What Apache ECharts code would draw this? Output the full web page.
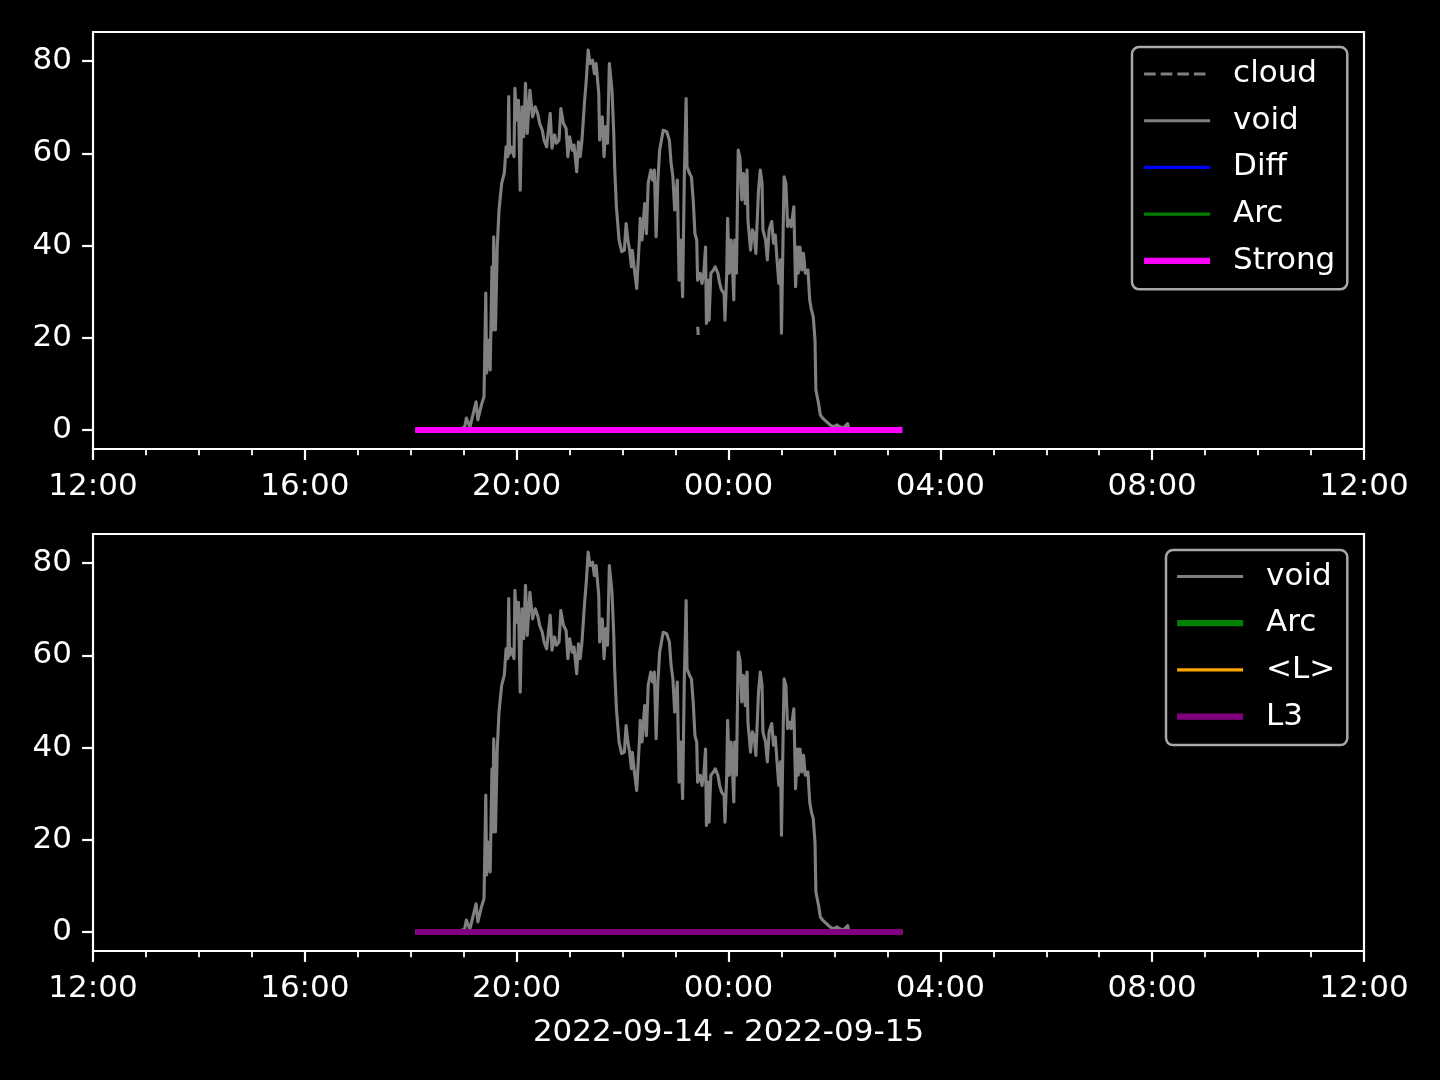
<!DOCTYPE html>
<html>
<head>
<meta charset="utf-8">
<script src="https://cdn.jsdelivr.net/npm/echarts@6/dist/echarts.min.js"></script>
<style>
html,body{margin:0;padding:0;background:#000;}
#chart{width:1440px;height:1080px;}
</style>
</head>
<body>
<div id="chart"></div>
<script>
// ---- data ----
const voidTimes = ["18:56","19:01","19:03","19:07","19:14","19:16","19:20","19:23","19:25","19:26","19:28","19:30","19:32","19:33","19:34","19:36","19:38","19:40","19:43","19:46","19:48","19:50","19:51","19:52","19:54","19:57","19:58","20:00","20:02","20:04","20:06","20:08","20:10","20:12","20:15","20:18","20:21","20:24","20:26","20:29","20:31","20:34","20:38","20:40","20:43","20:45","20:48","20:50","20:53","20:56","20:58","21:00","21:03","21:05","21:08","21:10","21:12","21:14","21:17","21:19","21:21","21:23","21:26","21:28","21:30","21:33","21:34","21:37","21:39","21:41","21:43","21:45","21:48","21:50","21:51","21:53","21:56","21:59","22:02","22:04","22:06","22:08","22:10","22:11","22:13","22:16","22:19","22:20","22:22","22:25","22:27","22:29","22:32","22:34","22:36","22:38","22:40","22:42","22:46","22:50","22:53","22:55","22:57","22:59","23:02","23:04","23:06","23:08","23:10","23:12","23:13","23:16","23:18","23:20","23:22","23:24","23:25","23:26","23:28","23:30","23:32","23:34","23:35","23:37","23:38","23:40","23:43","23:45","23:48","23:50","23:52","23:55","23:56","23:58","23:59","00:01","00:03","00:04","00:06","00:07","00:09","00:11","00:13","00:15","00:17","00:19","00:21","00:22","00:25","00:27","00:29","00:31","00:34","00:36","00:38","00:39","00:42","00:44","00:46","00:49","00:51","00:53","00:55","00:57","00:59","01:00","01:02","01:03","01:05","01:07","01:09","01:11","01:13","01:14","01:16","01:18","01:19","01:21","01:23","01:25","01:27","01:30","01:32","01:34","01:36","01:38","01:39","01:42","01:44","01:47","01:51","01:55","01:59","02:03","02:06","02:10","02:15","02:16"];
const voidValues = [0.3,0.6,2.6,0.6,6.1,2.2,5.4,7.2,29.7,12.4,19.5,13.0,35.4,21.7,41.9,21.7,39.7,47.7,53.5,55.7,61.4,59.3,72.3,60.0,61.4,59.3,74.1,67.2,71.5,52.0,70.1,63.6,75.2,64.3,73.7,67.9,70.1,68.5,66.5,65.0,62.9,61.4,68.7,61.1,64.0,62.2,62.9,69.7,66.5,65.4,59.3,63.6,60.7,61.8,56.0,62.5,59.3,62.9,71.5,76.2,82.4,79.5,80.2,77.3,79.5,73.0,62.9,67.9,59.3,65.8,62.2,79.5,73.7,64.3,57.1,48.4,41.2,38.7,39.0,44.8,41.2,39.0,35.4,39.0,35.4,30.7,41.2,45.9,41.2,49.1,42.6,53.5,56.4,54.2,56.4,41.9,54.2,60.7,65.0,64.7,62.9,57.8,54.9,47.7,54.2,32.5,41.2,28.9,55.6,71.9,57.1,55.6,54.9,49.9,42.6,41.2,32.5,33.0,34.0,31.8,34.0,39.7,23.1,32.5,23.8,34.0,34.7,35.4,34.0,31.8,30.4,29.6,23.8,34.0,45.9,34.0,41.2,37.6,28.2,41.2,34.0,60.7,59.0,49.9,55.6,49.1,56.4,45.5,39.0,43.4,42.6,38.3,52.0,56.4,53.5,43.4,41.2,36.9,43.4,45.2,40.5,42.3,36.9,31.8,36.9,21.0,44.1,54.9,53.5,44.1,45.5,44.1,44.4,48.4,31.1,39.7,34.0,39.7,34.7,38.3,34.0,34.7,28.2,26.0,24.6,19.5,8.7,5.8,3.3,2.5,1.8,1.1,0.7,1.1,0.7,0.4,1.4,0.4];
const cloudTimes = ["23:25:10","23:25:40"];
const cloudValues = [22.4,20.6];
const zeroTimes = ["18:05","03:17"];
const diffValues = [0,0];
const arcValues = [0,0];
const strongValues = [0,0];
const lValues = [0,0];
const l3Values = [0,0];
const yTicks = [0,20,40,60,80];
const xLabelHours = [0,4,8,12,16,20,24];   // hours after 2022-09-14 12:00
const xTitle = "2022-09-14 - 2022-09-15";

// ---- helpers ----
function toTs(s){
  const p = s.split(':').map(Number);
  const h = p[0], m = p[1], sec = p[2] || 0;
  const day = h < 12 ? 15 : 14;
  return new Date(2022, 8, day, h, m, sec).getTime();
}
function pairs(times, vals){ return times.map((t,i)=>[toTs(t), vals[i]]); }
const t0 = new Date(2022,8,14,12,0,0).getTime();
const HOUR = 3600*1000;
const xMin = t0, xMax = t0 + 24*HOUR;
const majorVals = xLabelHours.map(h=>t0+h*HOUR);
const minorVals = [];
for (let h=0; h<=24; h++) if (h%4) minorVals.push(t0+h*HOUR);
function pad(n){return (n<10?'0':'')+n;}
function fmt(v){const d=new Date(v);return pad(d.getHours())+':'+pad(d.getMinutes());}

const FONT = 'DejaVu Sans';
const FS = 31;
const yMin = -4.12, yMax = 86.32;
const LW = 3.1, LW2 = 6.2;

const grids = [
  {left:93, right:76, top:32, height:417, show:true, borderColor:'#ffffff', borderWidth:2.2, backgroundColor:'transparent'},
  {left:93, right:76, top:534, height:417, show:true, borderColor:'#ffffff', borderWidth:2.2, backgroundColor:'transparent'}
];

function mainX(g, withName){
  const ax = {
    type:'value', gridIndex:g, min:xMin, max:xMax, position:'bottom',
    axisLine:{show:false, onZero:false},
    splitLine:{show:false},
    axisTick:{show:true, customValues:majorVals, length:10.9, lineStyle:{color:'#fff', width:2.2}},
    axisLabel:{show:true, customValues:majorVals, formatter:fmt, color:'#fff', fontSize:FS, fontFamily:FONT, margin:22, hideOverlap:false, showMinLabel:true, showMaxLabel:true}
  };
  if (withName){
    ax.name = xTitle; ax.nameLocation='middle'; ax.nameGap=66;
    ax.nameTextStyle = {color:'#fff', fontSize:FS, fontFamily:FONT};
  }
  return ax;
}
function minorX(g){
  return {
    type:'value', gridIndex:g, min:xMin, max:xMax, position:'bottom',
    axisLine:{show:false, onZero:false}, splitLine:{show:false},
    axisTick:{show:true, customValues:minorVals, length:6.2, lineStyle:{color:'#fff', width:1.8}},
    axisLabel:{show:false}
  };
}
function yAx(g){
  return {
    type:'value', gridIndex:g, min:yMin, max:yMax, position:'left',
    axisLine:{show:false, onZero:false}, splitLine:{show:false},
    axisTick:{show:true, customValues:yTicks, length:10.9, lineStyle:{color:'#fff', width:2.2}},
    axisLabel:{show:true, customValues:yTicks, color:'#fff', fontSize:FS, fontFamily:FONT, margin:21}
  };
}
function line(name, xi, yi, data, color, width, dashed, z){
  return {
    name:name, type:'line', xAxisIndex:xi, yAxisIndex:yi, data:data,
    showSymbol:false, symbol:'none', connectNulls:false, animation:false,
    lineStyle:{color:color, width:width, type: dashed ? [11.6,5] : 'solid', cap:'butt', join:'round'},
    itemStyle:{color:color}, z:z
  };
}
const legendText = {color:'#fff', fontSize:FS, fontFamily:FONT, padding:[0,0,0,18]};
const legendBase = {
  orient:'vertical', backgroundColor:'#000', borderColor:'#a8a8a8', borderWidth:2.5, borderRadius:7,
  itemWidth:66, itemHeight:14, itemGap:15.7, textStyle:legendText, selectedMode:false,
  itemStyle:{color:'rgba(0,0,0,0)', borderColor:'rgba(0,0,0,0)', borderWidth:0, opacity:0}
};
function li(name, w, dashed){
  const o = {name:name, lineStyle:{width:w}};
  if (dashed) o.lineStyle.type = [11.6,5];
  return o;
}

const option = {
  backgroundColor:'#000',
  animation:false,
  grid:grids,
  xAxis:[mainX(0,false), minorX(0), mainX(1,true), minorX(1)],
  yAxis:[yAx(0), yAx(1)],
  legend:[
    Object.assign({}, legendBase, {
      left:1132, top:47, padding:[11.5,12,13,9],
      data:[li('cloud',LW,true), li('void',LW), li('Diff',LW), li('Arc',LW), li('Strong',LW2)]
    }),
    Object.assign({}, legendBase, {
      left:1166, top:550, padding:[11,12,13,8],
      data:[li('void ',LW), li('Arc ',LW2), li('<L>',LW), li('L3',LW2)],
      formatter:function(n){ return n.trim(); }
    })
  ],
  series:[
    line('cloud', 0, 0, pairs(cloudTimes, cloudValues), '#808080', LW, true, 2),
    line('void', 0, 0, pairs(voidTimes, voidValues), '#808080', LW, false, 3),
    line('Diff', 0, 0, pairs(zeroTimes, diffValues), '#0000ff', LW, false, 4),
    line('Arc', 0, 0, pairs(zeroTimes, arcValues), '#008000', LW, false, 5),
    line('Strong', 0, 0, pairs(zeroTimes, strongValues), '#ff00ff', LW2, false, 6),
    line('void ', 2, 1, pairs(voidTimes, voidValues), '#808080', LW, false, 3),
    line('Arc ', 2, 1, pairs(zeroTimes, arcValues), '#008000', LW2, false, 4),
    line('<L>', 2, 1, pairs(zeroTimes, lValues), '#ffa500', LW, false, 5),
    line('L3', 2, 1, pairs(zeroTimes, l3Values), '#800080', LW2, false, 6)
  ]
};

const chart = echarts.init(document.getElementById('chart'), null, {renderer:'canvas', width:1440, height:1080});
chart.setOption(option);
</script>
</body>
</html>
